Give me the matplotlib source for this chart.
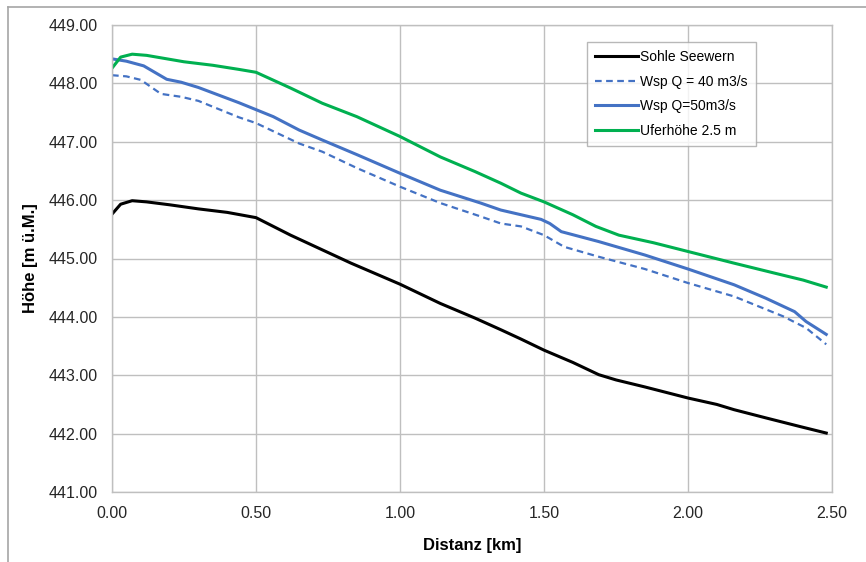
import matplotlib
matplotlib.use("Agg")
import matplotlib.pyplot as plt
from matplotlib.lines import Line2D

plt.rcParams['font.family'] = ['Liberation Sans', 'DejaVu Sans']

# Sohle Seewern
x_sohle = [0, 0.03, 0.07, 0.12, 0.2, 0.3, 0.4, 0.5, 0.62, 0.83, 1.0, 1.14, 1.26, 1.35,
           1.42, 1.5, 1.6, 1.69, 1.75, 1.85, 2.0, 2.1, 2.16, 2.27, 2.39, 2.48]
y_sohle = [445.76, 445.93, 445.99, 445.97, 445.92, 445.85, 445.79, 445.70, 445.40, 444.92,
           444.56, 444.23, 443.98, 443.78, 443.62, 443.43, 443.22, 443.01, 442.92, 442.80,
           442.61, 442.50, 442.41, 442.27, 442.12, 442.01]

# Wsp Q = 40 m3/s
x_q40 = [0, 0.05, 0.1, 0.17, 0.24, 0.3, 0.44, 0.5, 0.65, 0.73, 0.85, 1.0, 1.14, 1.28,
         1.35, 1.42, 1.5, 1.57, 1.69, 1.85, 2.0, 2.16, 2.33, 2.41, 2.48]
y_q40 = [448.14, 448.12, 448.06, 447.82, 447.77, 447.70, 447.42, 447.32, 446.97, 446.83,
         446.55, 446.23, 445.95, 445.72, 445.60, 445.55, 445.40, 445.20, 445.03, 444.82,
         444.58, 444.35, 444.01, 443.81, 443.53]

# Wsp Q=50m3/s
x_q50 = [0, 0.05, 0.11, 0.19, 0.24, 0.3, 0.44, 0.5, 0.56, 0.65, 0.73, 0.85, 1.0, 1.14,
         1.28, 1.35, 1.42, 1.49, 1.52, 1.56, 1.69, 1.85, 2.0, 2.16, 2.27, 2.37, 2.41, 2.48]
y_q50 = [448.42, 448.38, 448.30, 448.07, 448.02, 447.93, 447.67, 447.55, 447.43, 447.20,
         447.03, 446.78, 446.46, 446.17, 445.95, 445.83, 445.75, 445.67, 445.60, 445.46,
         445.29, 445.06, 444.82, 444.55, 444.32, 444.09, 443.92, 443.70]

# Uferhöhe 2.5 m
x_ufer = [0, 0.03, 0.07, 0.12, 0.25, 0.35, 0.44, 0.5, 0.62, 0.73, 0.85, 1.0, 1.14, 1.26,
          1.35, 1.42, 1.5, 1.6, 1.68, 1.76, 1.88, 2.0, 2.16, 2.3, 2.4, 2.48]
y_ufer = [448.26, 448.45, 448.50, 448.48, 448.37, 448.31, 448.24, 448.19, 447.92, 447.66,
          447.43, 447.09, 446.74, 446.49, 446.29, 446.12, 445.97, 445.75, 445.55, 445.40,
          445.27, 445.12, 444.92, 444.75, 444.63, 444.51]

x_ticks = [0.0, 0.5, 1.0, 1.5, 2.0, 2.5]
y_ticks = [441, 442, 443, 444, 445, 446, 447, 448, 449]

fig = plt.figure(figsize=(8.66, 5.62), dpi=100)
ax = fig.add_axes([112/866, 1 - 492/562, 720/866, 467/562])

blue = '#4472C4'
ax.plot(x_sohle, y_sohle, color='black', lw=2.2, label='Sohle Seewern')
ax.plot(x_q40, y_q40, color=blue, lw=1.6, ls=(0, (3, 2)), label='Wsp Q = 40 m3/s')
ax.plot(x_q50, y_q50, color=blue, lw=2.2, label='Wsp Q=50m3/s')
ax.plot(x_ufer, y_ufer, color='#00B050', lw=2.2, label='Uferhöhe 2.5 m')

ax.set_xlim(0, 2.5)
ax.set_ylim(441, 449)
ax.set_xticks(x_ticks)
ax.set_xticklabels([f'{v:.2f}' for v in x_ticks])
ax.set_yticks(y_ticks)
ax.set_yticklabels([f'{v:.2f}' for v in y_ticks])
ax.tick_params(length=0, labelsize=11.5, colors='#262626')
ax.tick_params(axis='y', pad=10)
ax.tick_params(axis='x', pad=10)
ax.grid(True, color='#BFBFBF', lw=1.0)
ax.set_axisbelow(True)
for s in ax.spines.values():
    s.set_color('#BFBFBF')
    s.set_linewidth(1.0)

ax.set_xlabel('Distanz [km]', fontsize=12, fontweight='bold', labelpad=12)
ax.set_ylabel('Höhe [m ü.M.]', fontsize=12, fontweight='bold', labelpad=8)

leg = ax.legend(loc='upper left', bbox_to_anchor=((587 - 112) / 720, (492 - 42) / 467),
                frameon=True, fancybox=False, fontsize=10, handlelength=3.1,
                handletextpad=0.1, borderpad=0.6, labelspacing=0.75,
                borderaxespad=0)
leg.get_frame().set_edgecolor('#A6A6A6')
leg.get_frame().set_linewidth(1.0)

# outer chart frame (left and top edges visible)
fig.add_artist(Line2D([8/866, 8/866], [0, 1 - 7/562], color='#A6A6A6', lw=1.2,
                      transform=fig.transFigure))
fig.add_artist(Line2D([8/866, 1], [1 - 7/562, 1 - 7/562], color='#A6A6A6', lw=1.2,
                      transform=fig.transFigure))

fig.savefig('out.png', dpi=100)
